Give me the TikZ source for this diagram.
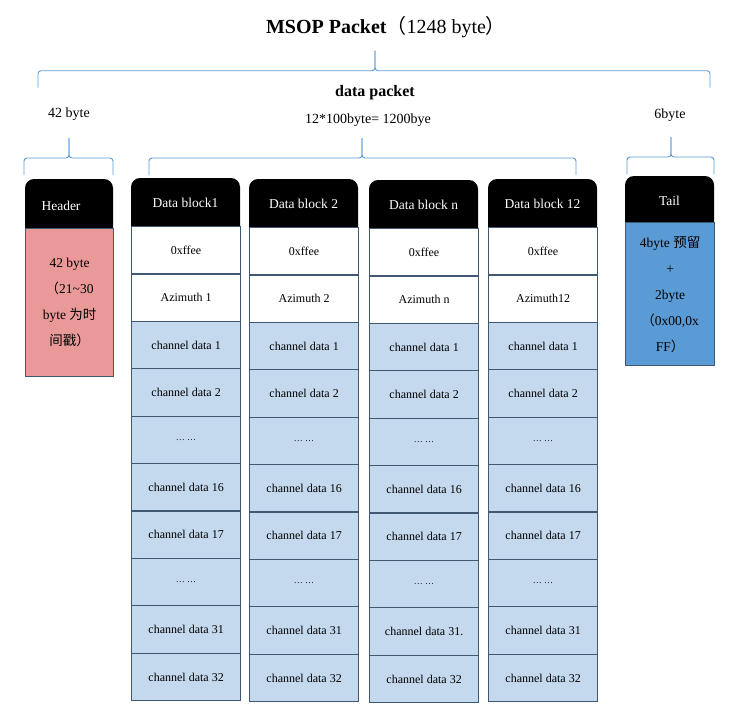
\documentclass[tikz,border=0pt]{standalone}
\usepackage{fontspec}
\setmainfont{Liberation Serif}
\newfontfamily\cjk{Noto Sans CJK SC}

\definecolor{braceblue}{RGB}{91,155,213}
\definecolor{edge}{RGB}{65,88,115}
\definecolor{chblue}{RGB}{197,217,238}
\definecolor{hdrred}{RGB}{234,153,153}
\definecolor{tailblue}{RGB}{91,155,213}

\newcommand{\chgap}{{\fontsize{9}{10}\selectfont\ldots\ \ldots}}

\begin{document}
\begin{tikzpicture}[x=1pt,y=-1pt,
		bracket/.style={draw=braceblue,line width=0.9pt,rounded corners=3pt},
		headbox/.style={fill=black,rounded corners=9pt},
		headtext/.style={text=white,font=\fontsize{13.5}{16}\selectfont},
		toptext/.style={font=\fontsize{14}{16}\selectfont},
		cell/.style={draw=edge,line width=1.2pt,minimum width=109pt,minimum height=47.4pt,
			anchor=north west,inner sep=0pt,font=\fontsize{12}{14}\selectfont},
		idcell/.style={cell,fill=white},
		chcell/.style={cell,fill=chblue},
		bodybox/.style={draw=edge,line width=1.2pt,anchor=north west,inner sep=0pt,
			align=center,font=\fontsize{13.5}{26}\selectfont}]
		\useasboundingbox (0,0) rectangle (744,710);

		% title and braces
		\node (title) at (386,27) {\fontsize{20}{24}\selectfont\textbf{MSOP Packet}{\cjk （}1248 byte{\cjk ）}};
		\foreach \l/\r/\t/\y in {38/710/375/70.7, 24/113/69/158, 149/576/362/158, 627/714/671/157}{
			\draw[bracket] (\l,\y+17) -- (\l,\y) -- (\t,\y) -- (\t,\y-20);
			\draw[bracket] (\r,\y+17) -- (\r,\y) -- (\t,\y) -- (\t,\y-20);
		}
		\node[font=\fontsize{16}{18}\selectfont\bfseries] (dp) at (375,93) {data packet};
		\node[toptext] (hbyte) at (69,114) {42 byte};
		\node[toptext] (dbyte) at (368,120) {12*100byte= 1200bye};
		\node[toptext] (tbyte) at (670,115) {6byte};

		% header
		\fill[headbox] (25,238) rectangle (113,179);
		\node[headtext] (hdr) at (61,206) {Header};
		\node[bodybox,fill=hdrred,minimum width=88pt,minimum height=148pt] (hbody) at (25,228)
			{42 byte\\{\cjk （}21\textasciitilde 30\\byte {\cjk 为时}\\{\cjk 间戳）}};

		% data blocks
		\foreach \col/\x/\dy/\btitle/\az/\lastch in {d1/131/0/Data block1/Azimuth 1/31, d2/249/1/Data block 2/Azimuth 2/31, dn/369/2/Data block n/Azimuth n/31., d12/488/1/Data block 12/Azimuth12/31}{
			\fill[headbox] (\x,\dy+236) rectangle (\x+109,\dy+178);
			\node[headtext] (\col-t) at (\x+54.5,\dy+203) {\btitle};
			\node[idcell] (\col-0) at (\x,\dy+226) {0xffee};
			\node[idcell] (\col-a) at (\x,\dy+273.4) {\az};
			\foreach \txt [count=\i] in {channel data 1,channel data 2,\chgap,channel data 16,channel data 17,\chgap,channel data \lastch,channel data 32}{
				\node[chcell] (\col-\i) at (\x,\dy+273.4+\i*47.4) {\txt};
			}
		}

		% tail
		\fill[headbox] (625,232) rectangle (714,176);
		\node[headtext] (tl) at (669.5,201) {Tail};
		\node[bodybox,fill=tailblue,minimum width=89pt,minimum height=143pt] (tbody) at (625,222)
			{4byte {\cjk 预留}\\+\\2byte\\{\cjk （}0x00,0x\\FF{\cjk ）}};
	\end{tikzpicture}
\end{document}
